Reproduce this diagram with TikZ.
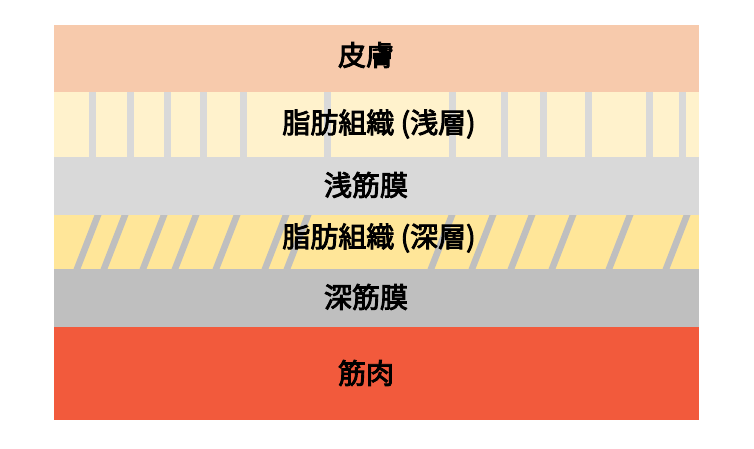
\documentclass[tikz,border=0pt]{standalone}
\usepackage{fontspec}
\setmainfont{Noto Sans CJK JP}
\newcommand{\heavy}[1]{\special{pdf:code 2 Tr 0.9 w}#1\special{pdf:code 0 Tr}}
\definecolor{skin}{HTML}{F7CAAC}
\definecolor{fatA}{HTML}{FFF2CC}
\definecolor{fasA}{HTML}{D9D9D9}
\definecolor{fatB}{HTML}{FFE699}
\definecolor{fasB}{HTML}{BFBFBF}
\definecolor{musc}{HTML}{F25A3C}
\tikzset{lbl/.style={font=\fontsize{28}{32}\selectfont, inner sep=0pt}}
\begin{document}
\begin{tikzpicture}[x=1pt,y=-1pt]
\useasboundingbox (0,0) rectangle (754,449);
\fill[white] (0,0) rectangle (754,449);
\fill[skin] (54,25) rectangle (699,92);
\fill[fatA] (54,92) rectangle (699,157);
\fill[fasA] (54,157) rectangle (699,215);
\fill[fatB] (54,215) rectangle (699,269);
\fill[fasB] (54,269) rectangle (699,327);
\fill[musc] (54,327) rectangle (699,420);
\foreach \x in {92,130,167,203,243,327,452,504,543,588,649,682}
  \fill[fasA] (\x-3.5,92) rectangle (\x+3.5,157);
\foreach \x in {98,125,164,196,237,286,308,452,493,532,573,630,687}
  \fill[fasB] (\x-3.5,215) -- (\x+3.5,215) -- (\x-17.5,269) -- (\x-24.5,269) -- cycle;
\node[lbl] (skinlbl) at (366,55) {\heavy{皮膚}};
\node[lbl] (fat1lbl) at (379,124) {\heavy{脂肪組織 (浅層)}};
\node[lbl] (fas1lbl) at (366,185) {\heavy{浅筋膜}};
\node[lbl] (fat2lbl) at (379,238) {\heavy{脂肪組織 (深層)}};
\node[lbl] (fas2lbl) at (366,297) {\heavy{深筋膜}};
\node[lbl] (musclbl) at (366,373) {\heavy{筋肉}};
\end{tikzpicture}
\end{document}
